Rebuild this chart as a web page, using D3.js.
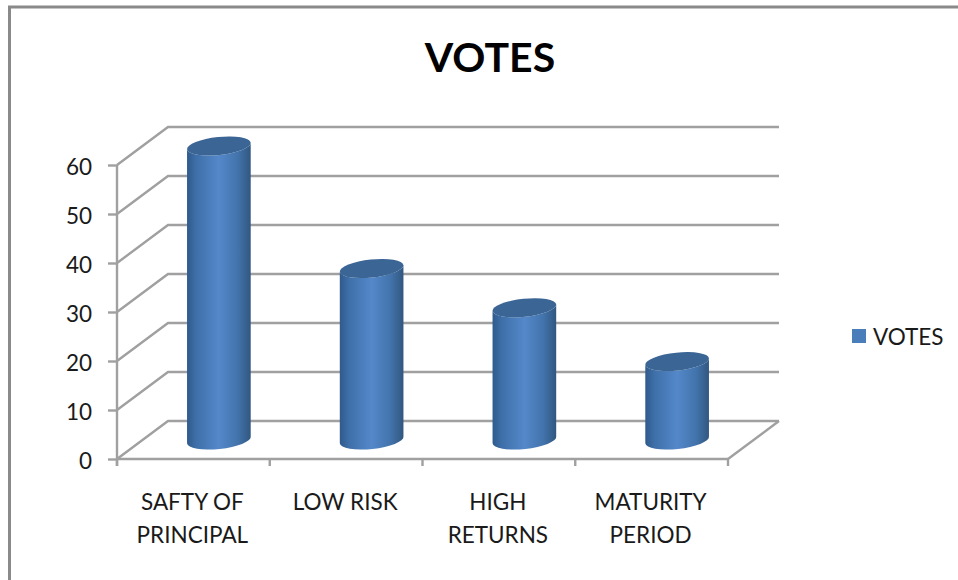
<!DOCTYPE html>
<html>
<head>
<meta charset="utf-8">
<script src="https://cdn.jsdelivr.net/npm/d3@7"></script>
<style>
  html, body { margin: 0; padding: 0; background: #fff; overflow: hidden; }
  text { font-family: Lato, "Open Sans", sans-serif; fill: #1a1a1a; }
</style>
</head>
<body>
<svg id="chart"></svg>
<script>
const categories = [["SAFTY OF", "PRINCIPAL"], ["LOW RISK"], ["HIGH", "RETURNS"], ["MATURITY", "PERIOD"]];
const votes = [60, 35, 27, 16];
const y_ticks = [0, 10, 20, 30, 40, 50, 60];
const series_name = "VOTES";

const width = 958, height = 580;
const grid_color = "#a0a0a0";
const grid_width = 2.4;

// front plane of the 3d box, walls are pushed back by depth_x / depth_y
const plot = { left: 117, right: 728, top: 165, bottom: 459 };
const depth_x = 51, depth_y = -38;

const bar_rx = 32, bar_ry = 9, bar_tilt = -6;

const svg = d3.select("#chart").attr("width", width).attr("height", height);

const x = d3.scaleBand().domain(d3.range(categories.length)).range([plot.left, plot.right]);
const y = d3.scaleLinear().domain([0, 60]).range([plot.bottom, plot.top]);

const defs = svg.append("defs");
const side = defs.append("linearGradient").attr("id", "bar_side");
[[0, "#2f5a8c"], [0.14, "#3e6fa8"], [0.5, "#5488ca"], [0.8, "#4273ab"], [1, "#315780"]].forEach(function(s) {
  side.append("stop").attr("offset", s[0]).attr("stop-color", s[1]);
});

// chart frame, only top and left show
svg.append("path")
    .attr("d", `M9.5,${height} V7 H${width}`)
    .attr("fill", "none")
    .attr("stroke", "#8a8a8a")
    .attr("stroke-width", 3);

// walls
const grid = svg.append("g")
    .attr("fill", "none")
    .attr("stroke", grid_color)
    .attr("stroke-width", grid_width);

y_ticks.forEach(function(t) {
  grid.append("path")
      .attr("d", `M${plot.left},${y(t)} l${depth_x},${depth_y} H${plot.right + depth_x}`);
});
grid.append("path")
    .attr("d", `M${plot.right},${plot.bottom} l${depth_x},${depth_y}`);

// value axis
const y_axis = svg.append("g")
    .attr("transform", `translate(${plot.left},0)`)
    .call(d3.axisLeft(y).tickValues(y_ticks).tickSize(9).tickPadding(16));

y_axis.select(".domain").remove();
y_axis.selectAll(".tick line").attr("stroke", grid_color).attr("stroke-width", grid_width);
y_axis.selectAll(".tick text")
    .attr("font-size", 22.5)
    .attr("font-family", null)
    .attr("dy", "0.4em");

svg.append("line")
    .attr("x1", plot.left).attr("x2", plot.left)
    .attr("y1", y(60)).attr("y2", plot.bottom + 7)
    .attr("stroke", grid_color).attr("stroke-width", grid_width);

// category axis, ticks sit on the band edges
svg.append("line")
    .attr("x1", plot.left).attr("x2", plot.right)
    .attr("y1", plot.bottom).attr("y2", plot.bottom)
    .attr("stroke", grid_color).attr("stroke-width", grid_width);

d3.range(categories.length + 1).forEach(function(i) {
  const tx = plot.left + i * x.step();
  svg.append("line")
      .attr("x1", tx).attr("x2", tx)
      .attr("y1", plot.bottom).attr("y2", plot.bottom + 7)
      .attr("stroke", grid_color).attr("stroke-width", grid_width);
});

categories.forEach(function(lines, i) {
  const label = svg.append("text")
      .attr("text-anchor", "middle")
      .attr("font-size", 22.5);
  lines.forEach(function(line, j) {
    label.append("tspan")
        .attr("x", x(i) + x.bandwidth() / 2 - 1)
        .attr("y", 510 + j * 33)
        .text(line);
  });
});

// cylinders stand halfway into the box depth
const tilt = bar_tilt * Math.PI / 180;
const bars = svg.selectAll(".bar")
    .data(votes)
    .enter()
    .append("g")
    .attr("class", "bar")
    .attr("transform", function(d, i) {
      return `translate(${x(i) + x.bandwidth() / 2 + depth_x / 2},${depth_y / 2})`;
    });

bars.each(function(d) {
  const bar = d3.select(this);
  const dx = bar_rx * Math.cos(tilt), dy = bar_rx * Math.sin(tilt);
  const top = y(d), base = y(0);

  bar.append("path")
      .attr("fill", "url(#bar_side)")
      .attr("d", `M${-dx},${top - dy} L${-dx},${base - dy}`
        + ` A${bar_rx},${bar_ry} ${bar_tilt} 0 0 ${dx},${base + dy}`
        + ` L${dx},${top + dy}`
        + ` A${bar_rx},${bar_ry} ${bar_tilt} 0 1 ${-dx},${top - dy} Z`);

  bar.append("ellipse")
      .attr("rx", bar_rx)
      .attr("ry", bar_ry)
      .attr("transform", `translate(0,${top}) rotate(${bar_tilt})`)
      .attr("fill", "#3a6595");
});

// title
svg.append("text")
    .attr("x", 490)
    .attr("y", 72)
    .attr("text-anchor", "middle")
    .attr("font-size", 41)
    .attr("font-weight", "bold")
    .style("fill", "#000")
    .text(series_name);

// legend
svg.append("rect")
    .attr("x", 852).attr("y", 329)
    .attr("width", 14).attr("height", 14)
    .attr("fill", "#4a7ebb");

svg.append("text")
    .attr("x", 873)
    .attr("y", 345)
    .attr("font-size", 22.5)
    .text(series_name);
</script>
</body>
</html>
